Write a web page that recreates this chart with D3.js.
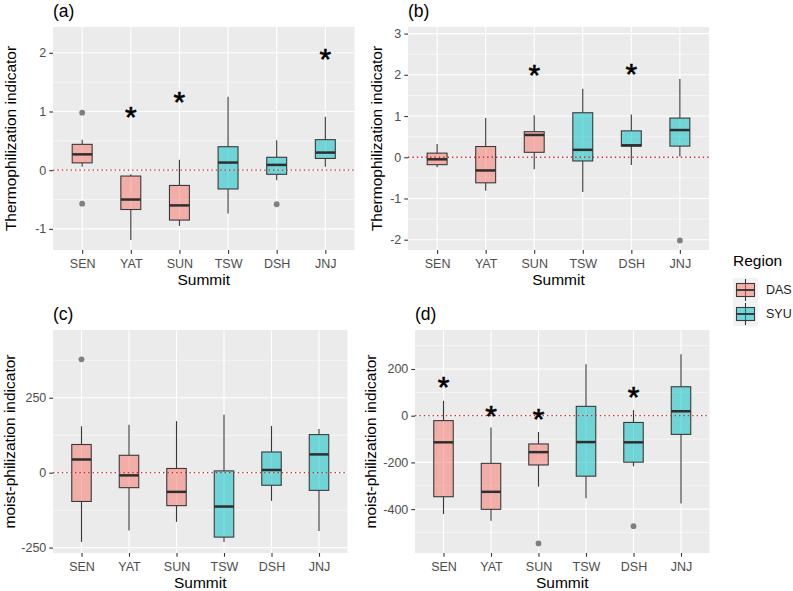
<!DOCTYPE html>
<html>
<head>
<meta charset="utf-8">
<script src="https://cdn.jsdelivr.net/npm/d3@7.9.0/dist/d3.min.js"></script>
<style>
  body { margin: 0; background: #fff; }
  svg { display: block; font-family: "Liberation Sans", Arial, sans-serif; }
</style>
</head>
<body>
<svg id="chart" width="793" height="591"></svg>
<script>
// --- Data ---
const summits = ["SEN", "YAT", "SUN", "TSW", "DSH", "JNJ"];
const summitRegion = ["DAS", "DAS", "DAS", "SYU", "SYU", "SYU"];
const regionNames = ["DAS", "SYU"];
const regionColors = ["#F8766D", "#00BFC4"];

// rows per summit: lower whisker, Q1, median, Q3, upper whisker
const thermoA = [
  [0.06, 0.125, 0.27, 0.44, 0.52],
  [-1.19, -0.67, -0.50, -0.10, -0.07],
  [-0.95, -0.85, -0.60, -0.26, 0.18],
  [-0.74, -0.32, 0.13, 0.40, 1.25],
  [-0.17, -0.07, 0.09, 0.22, 0.51],
  [0.06, 0.20, 0.30, 0.52, 0.91]
];
const thermoB = [
  [-0.24, -0.18, -0.05, 0.10, 0.32],
  [-0.81, -0.62, -0.32, 0.26, 0.95],
  [-0.29, 0.12, 0.54, 0.62, 1.02],
  [-0.84, -0.09, 0.18, 1.08, 1.66],
  [-0.19, 0.27, 0.29, 0.64, 1.04],
  [0.02, 0.27, 0.66, 0.95, 1.90]
];
const moistC = [
  [-231, -96, 44, 94, 155],
  [-193, -50, -9, 58, 160],
  [-164, -110, -64, 14, 172],
  [-231, -215, -113, 6, 193],
  [-94, -42, 9, 69, 156],
  [-195, -59, 61, 127, 146]
];
const moistD = [
  [-421, -347, -114, -21, 64],
  [-450, -401, -326, -204, -51],
  [-304, -211, -156, -121, -70],
  [-354, -259, -113, 40, 220],
  [-217, -199, -114, -29, 24],
  [-376, -80, 19, 124, 263]
];

const outliersA = [["SEN", 0.98], ["SEN", -0.57], ["DSH", -0.58]];
const outliersB = [["JNJ", -2.02]];
const outliersC = [["SEN", 378]];
const outliersD = [["SUN", -547], ["DSH", -473]];

const starsA = [["YAT", 1.03], ["SUN", 1.29], ["JNJ", 2.02]];
const starsB = [["SUN", 2.17], ["DSH", 2.2]];
const starsC = [];
const starsD = [["SEN", 153], ["YAT", 31], ["SUN", 17], ["DSH", 113]];

const ticksA = [-1, 0, 1, 2];
const ticksB = [-2, -1, 0, 1, 2, 3];
const ticksC = [-250, 0, 250];
const ticksD = [-400, -200, 0, 200];
const minorA = [-0.5, 0.5, 1.5];
const minorB = [-1.5, -0.5, 0.5, 1.5, 2.5];
const minorC = [-125, 125, 375];
const minorD = [-500, -300, -100, 100, 300];

// --- Layout ---
const panels = [
  { tag: "(a)", stats: thermoA, outliers: outliersA, stars: starsA, ticks: ticksA, minor: minorA,
    domain: [-1.36, 2.44], left: 53, right: 354.5, top: 27, bottom: 250,
    ytitle: "Thermophilization indicator", titleX: 16 },
  { tag: "(b)", stats: thermoB, outliers: outliersB, stars: starsB, ticks: ticksB, minor: minorB,
    domain: [-2.25, 3.16], left: 408, right: 709, top: 27, bottom: 250,
    ytitle: "Thermophilization indicator", titleX: 382 },
  { tag: "(c)", stats: moistC, outliers: outliersC, stars: starsC, ticks: ticksC, minor: minorC,
    domain: [-268, 476], left: 53, right: 347.5, top: 330, bottom: 553,
    ytitle: "moist-philization indicator", titleX: 15 },
  { tag: "(d)", stats: moistD, outliers: outliersD, stars: starsD, ticks: ticksD, minor: minorD,
    domain: [-588, 367], left: 415, right: 709.5, top: 330, bottom: 553,
    ytitle: "moist-philization indicator", titleX: 376 }
];

const svg = d3.select("#chart");
const color = d3.scaleOrdinal().domain(regionNames).range(regionColors);

function drawPanel(p) {
  const g = svg.append("g");
  const x = d3.scalePoint().domain(summits).range([p.left, p.right]).padding(0.6);
  const y = d3.scaleLinear().domain(p.domain).range([p.bottom, p.top]);
  const bw = x.step() * 0.41;

  g.append("rect")
    .attr("x", p.left).attr("y", p.top)
    .attr("width", p.right - p.left).attr("height", p.bottom - p.top)
    .attr("fill", "#EBEBEB");

  // grid
  g.selectAll(".minor").data(p.minor).join("line")
    .attr("x1", p.left).attr("x2", p.right)
    .attr("y1", d => y(d)).attr("y2", d => y(d))
    .attr("stroke", "#fff").attr("stroke-width", 0.55);
  g.selectAll(".major").data(p.ticks).join("line")
    .attr("x1", p.left).attr("x2", p.right)
    .attr("y1", d => y(d)).attr("y2", d => y(d))
    .attr("stroke", "#fff").attr("stroke-width", 1.1);
  g.selectAll(".vgrid").data(summits).join("line")
    .attr("x1", d => x(d)).attr("x2", d => x(d))
    .attr("y1", p.top).attr("y2", p.bottom)
    .attr("stroke", "#fff").attr("stroke-width", 1.1);

  // boxes
  p.stats.forEach((s, i) => {
    const cx = x(summits[i]);
    const [lo, q1, med, q3, hi] = s;
    const bg = g.append("g");
    bg.append("line").attr("x1", cx).attr("x2", cx).attr("y1", y(q3)).attr("y2", y(hi))
      .attr("stroke", "#383838").attr("stroke-width", 1.1);
    bg.append("line").attr("x1", cx).attr("x2", cx).attr("y1", y(q1)).attr("y2", y(lo))
      .attr("stroke", "#383838").attr("stroke-width", 1.1);
    bg.append("rect")
      .attr("x", cx - bw / 2).attr("width", bw)
      .attr("y", y(q3)).attr("height", y(q1) - y(q3))
      .attr("fill", color(summitRegion[i])).attr("fill-opacity", 0.52)
      .attr("stroke", "#3a3a3a").attr("stroke-width", 1.1);
    bg.append("line").attr("x1", cx - bw / 2).attr("x2", cx + bw / 2)
      .attr("y1", y(med)).attr("y2", y(med))
      .attr("stroke", "#2e2e2e").attr("stroke-width", 2.5);
  });

  g.selectAll(".outlier").data(p.outliers).join("circle")
    .attr("cx", d => x(d[0])).attr("cy", d => y(d[1])).attr("r", 2.9)
    .attr("fill", "#7f7f7f");

  // zero reference line
  g.append("line")
    .attr("x1", p.left).attr("x2", p.right).attr("y1", y(0)).attr("y2", y(0))
    .attr("stroke", "#cc2a2a").attr("stroke-width", 1.3)
    .attr("stroke-dasharray", "1.4,3");

  g.selectAll(".star").data(p.stars).join("text")
    .attr("x", d => x(d[0])).attr("y", d => y(d[1]))
    .attr("dy", "0.58em").attr("text-anchor", "middle")
    .attr("font-size", 30).attr("fill", "#000")
    .attr("stroke", "#000").attr("stroke-width", 0.6).text("*");

  // axes
  const ya = g.append("g").attr("transform", `translate(${p.left},0)`)
    .call(d3.axisLeft(y).tickValues(p.ticks).tickSize(3.7).tickPadding(3).tickFormat(d => String(d)));
  const xa = g.append("g").attr("transform", `translate(0,${p.bottom})`)
    .call(d3.axisBottom(x).tickSize(3.7).tickPadding(5.5));
  [ya, xa].forEach(a => {
    a.select(".domain").remove();
    a.selectAll("line").attr("stroke", "#333").attr("stroke-width", 1.1);
    a.selectAll("text").attr("fill", "#4D4D4D").attr("font-size", 12.5).attr("font-family", null);
  });

  g.append("text")
    .attr("x", (p.left + p.right) / 2).attr("y", p.bottom + 35)
    .attr("text-anchor", "middle").attr("font-size", 15.5).attr("fill", "#000")
    .text("Summit");
  g.append("text")
    .attr("transform", `translate(${p.titleX},${(p.top + p.bottom) / 2}) rotate(-90)`)
    .attr("text-anchor", "middle").attr("font-size", 15.5).attr("fill", "#000")
    .text(p.ytitle);
  g.append("text")
    .attr("x", p.left).attr("y", p.top - 10)
    .attr("font-size", 17.5).attr("fill", "#000")
    .text(p.tag);
}

panels.forEach(drawPanel);

// legend
const lg = svg.append("g").attr("transform", "translate(733,0)");
lg.append("text").attr("x", 0).attr("y", 266).attr("font-size", 15.5).attr("fill", "#000").text("Region");
regionNames.forEach((r, i) => {
  const top = 278 + i * 24;
  const k = lg.append("g");
  k.append("rect").attr("x", 0).attr("y", top).attr("width", 25).attr("height", 24).attr("fill", "#F2F2F2");
  k.append("line").attr("x1", 12.5).attr("x2", 12.5).attr("y1", top + 1).attr("y2", top + 23)
    .attr("stroke", "#383838").attr("stroke-width", 1.1);
  k.append("rect").attr("x", 3.5).attr("y", top + 5.5).attr("width", 18).attr("height", 13)
    .attr("fill", color(r)).attr("fill-opacity", 0.52).attr("stroke", "#3a3a3a").attr("stroke-width", 1.1);
  k.append("line").attr("x1", 3.5).attr("x2", 21.5).attr("y1", top + 12).attr("y2", top + 12)
    .attr("stroke", "#2e2e2e").attr("stroke-width", 1.8);
  k.append("text").attr("x", 33).attr("y", top + 12).attr("dy", "0.35em")
    .attr("font-size", 12.5).attr("fill", "#1a1a1a").text(r);
});
</script>
</body>
</html>
